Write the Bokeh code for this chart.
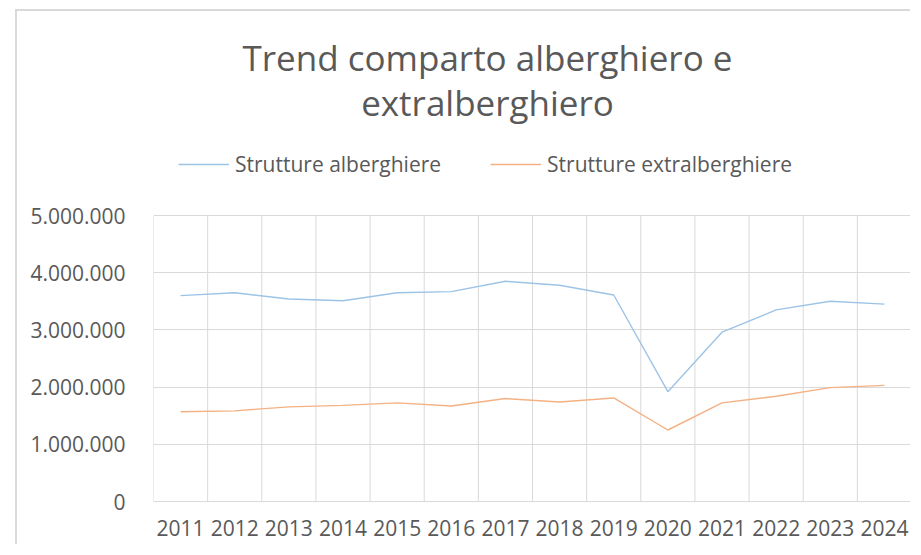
from bokeh.plotting import figure
from bokeh.models import Range1d, FixedTicker, Legend, LegendItem, Label, ColumnDataSource
from bokeh.embed import file_html
from bokeh.resources import INLINE

# ---- data ----
years = [2011, 2012, 2013, 2014, 2015, 2016, 2017, 2018, 2019, 2020, 2021, 2022, 2023, 2024]
year_labels = ["2011", "2012", "2013", "2014", "2015", "2016", "2017",
               "2018", "2019", "2020", "2021", "2022", "2023", "2024"]
alberghiere = [3600000, 3650000, 3540000, 3510000, 3650000, 3670000, 3850000,
               3780000, 3610000, 1920000, 2960000, 3350000, 3500000, 3450000]
extralberghiere = [1570000, 1585000, 1655000, 1680000, 1725000, 1670000, 1800000,
                   1740000, 1810000, 1250000, 1725000, 1840000, 1990000, 2030000]
y_ticks = [0, 1000000, 2000000, 3000000, 4000000, 5000000]
y_tick_labels = ["0", "1.000.000", "2.000.000", "3.000.000", "4.000.000", "5.000.000"]
series_names = ["Strutture alberghiere", "Strutture extralberghiere"]
title_lines = ["Trend comparto alberghiero e", "extralberghiero"]

# ---- style / layout ----
FONT = "Open Sans"
TEXT = "#595959"
GRID = "#d9d9d9"
BLUE = "#9DC3E6"
ORANGE = "#F4B183"

W, H = 895, 535               # canvas size (chart border drawn by CSS left/top)
FRAME_BOTTOM = 490            # px from canvas top
PLOT_TOP = 204                # px from canvas top where the value axis ends (5.000.000)
y_max = y_ticks[-1]
y_end = y_max * FRAME_BOTTOM / (FRAME_BOTTOM - PLOT_TOP)   # headroom for title & legend

p = figure(width=W, height=H, output_backend="svg", toolbar_location=None,
           x_range=Range1d(years[0] - 0.5, years[-1] + 0.5), y_range=Range1d(0, y_end),
           min_border_left=136, min_border_right=1, min_border_bottom=H - FRAME_BOTTOM,
           min_border_top=0, title=None)
p.styles = {"position": "absolute", "left": "15px", "top": "9px",
            "border-left": "2px solid #d9d9d9", "border-top": "2px solid #d9d9d9"}
p.outline_line_color = None
p.background_fill_color = "white"
p.border_fill_color = "white"

# vertical category-boundary gridlines, limited to the value range
boundaries = [y - 0.5 for y in years] + [years[-1] + 0.5]
p.segment(x0=boundaries, y0=[y_ticks[0]] * len(boundaries),
          x1=boundaries, y1=[y_max] * len(boundaries), line_color=GRID, line_width=1)

src = ColumnDataSource(dict(year=years, alb=alberghiere, ext=extralberghiere))
r1 = p.line("year", "alb", source=src, line_color=BLUE, line_width=1.4)
r2 = p.line("year", "ext", source=src, line_color=ORANGE, line_width=1.4)

# x axis
p.xaxis.ticker = FixedTicker(ticks=years)
p.xaxis.major_label_overrides = dict(zip(years, year_labels))
p.xaxis.axis_line_color = GRID
p.xaxis.major_tick_line_color = None
p.xaxis.minor_tick_line_color = None
p.xaxis.major_label_text_font = FONT
p.xaxis.major_label_text_font_size = "21px"
p.xaxis.major_label_text_color = TEXT
p.xaxis.major_label_standoff = 12

# y axis
p.yaxis.ticker = FixedTicker(ticks=y_ticks)
p.yaxis.major_label_overrides = dict(zip(y_ticks, y_tick_labels))
p.yaxis.axis_line_color = None
p.yaxis.major_tick_line_color = None
p.yaxis.minor_tick_line_color = None
p.yaxis.major_label_text_font = FONT
p.yaxis.major_label_text_font_size = "21px"
p.yaxis.major_label_text_color = TEXT
p.yaxis.major_label_standoff = 22

# grids
p.xgrid.visible = False
p.ygrid.ticker = FixedTicker(ticks=y_ticks)
p.ygrid.grid_line_color = GRID

# legend (frame-relative screen position)
legend = Legend(items=[LegendItem(label=series_names[0], renderers=[r1]),
                       LegendItem(label=series_names[1], renderers=[r2])],
                orientation="horizontal", location=(25, 323), padding=0, margin=0,
                spacing=49, glyph_width=51, glyph_height=20, label_standoff=6,
                border_line_color=None, background_fill_alpha=0,
                label_text_font=FONT, label_text_font_size="21px",
                label_text_color=TEXT)
p.add_layout(legend, "center")

# title lines (frame-relative screen units)
for line, ty in zip(title_lines, [444, 399]):
    p.add_layout(Label(x=334, y=ty, x_units="screen", y_units="screen", text=line,
                       text_align="center", text_baseline="alphabetic",
                       text_font=FONT, text_font_size="35px", text_color=TEXT))

open("out.html", "w").write(file_html(p, INLINE))
